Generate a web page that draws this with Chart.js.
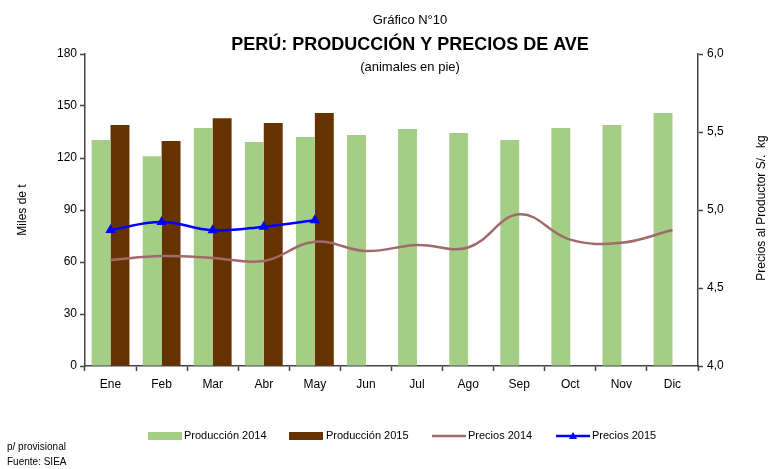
<!DOCTYPE html>
<html>
<head>
<meta charset="utf-8">
<script src="https://cdn.jsdelivr.net/npm/chart.js@4"></script>
<style>
    html, body { margin: 0; padding: 0; background: #fff; }
    #wrap { width: 769px; height: 469px; position: relative; }
</style>
</head>
<body>
<div id="wrap"><canvas id="chart" width="769" height="469"></canvas></div>
<script>
// Data
const MONTHS = ['Ene', 'Feb', 'Mar', 'Abr', 'May', 'Jun', 'Jul', 'Ago', 'Sep', 'Oct', 'Nov', 'Dic'];
const PROD_2014 = [130.4, 121, 137.3, 129.2, 132.1, 133.3, 136.7, 134.4, 130.4, 137.3, 139, 146];
const PROD_2015 = [139, 129.8, 143, 140.2, 146, null, null, null, null, null, null, null];
const PRECIO_2014 = [4.68, 4.705, 4.693, 4.673, 4.797, 4.737, 4.776, 4.76, 4.972, 4.81, 4.79, 4.872];
const PRECIO_2015 = [4.872, 4.923, 4.87, 4.893, 4.934, null, null, null, null, null, null, null];

const FONT = "'Liberation Sans', Arial, sans-serif";
const GREEN = '#A4CD86';
const BROWN = '#663300';
const ROSE = '#A06A6A';
const BLUE = '#0000FF';

// Titles, axis titles, legend and notes
const decorPlugin = {
    id: 'decor',
    afterDraw(chart) {
        const c = chart.ctx;
        c.save();
        c.fillStyle = '#000';
        c.textAlign = 'center';
        c.textBaseline = 'middle';
        c.font = '13px ' + FONT;
        c.fillText('Gráfico N°10', 410, 20);
        c.font = 'bold 18px ' + FONT;
        c.fillText('PERÚ: PRODUCCIÓN Y PRECIOS DE AVE', 410, 45);
        c.font = '13px ' + FONT;
        c.fillText('(animales en pie)', 410, 67);

        c.font = '12px ' + FONT;
        c.save();
        c.translate(23, 210);
        c.rotate(-Math.PI / 2);
        c.fillText('Miles de t', 0, 0);
        c.restore();
        c.save();
        c.translate(762, 208);
        c.rotate(-Math.PI / 2);
        c.fillText('Precios al Productor S/.  kg', 0, 0);
        c.restore();

        // legend
        const ly = 436;
        c.font = '11px ' + FONT;
        c.textAlign = 'left';
        c.fillStyle = GREEN;
        c.fillRect(148, ly - 4, 34, 8);
        c.fillStyle = BROWN;
        c.fillRect(289, ly - 4, 34, 8);
        c.strokeStyle = ROSE;
        c.lineWidth = 2.5;
        c.beginPath(); c.moveTo(432, ly); c.lineTo(466, ly); c.stroke();
        c.strokeStyle = BLUE;
        c.beginPath(); c.moveTo(556, ly); c.lineTo(590, ly); c.stroke();
        c.fillStyle = BLUE;
        c.beginPath(); c.moveTo(573, ly - 4); c.lineTo(577, ly + 3); c.lineTo(569, ly + 3); c.closePath(); c.fill();
        c.fillStyle = '#000';
        c.fillText('Producción 2014', 184, ly);
        c.fillText('Producción 2015', 326, ly);
        c.fillText('Precios 2014', 468, ly);
        c.fillText('Precios 2015', 592, ly);

        c.font = '10px ' + FONT;
        c.fillText('p/ provisional', 7, 447);
        c.fillText('Fuente: SIEA', 7, 462);
        c.restore();
    }
};

const TICK_FONT = { family: FONT, size: 12 };

new Chart(document.getElementById('chart'), {
    type: 'bar',
    data: {
        labels: MONTHS,
        datasets: [
            { type: 'line', label: 'Precios 2015', data: PRECIO_2015, yAxisID: 'y1', borderColor: BLUE, backgroundColor: BLUE,
              borderWidth: 2.5, tension: 0.4, pointStyle: 'triangle', pointRadius: 3.5, pointBackgroundColor: BLUE, order: 0 },
            { type: 'line', label: 'Precios 2014', data: PRECIO_2014, yAxisID: 'y1', borderColor: ROSE,
              borderWidth: 2.5, tension: 0.4, pointRadius: 0, order: 1 },
            { label: 'Producción 2014', data: PROD_2014, backgroundColor: GREEN, yAxisID: 'y', order: 2,
              categoryPercentage: 0.74, barPercentage: 1 },
            { label: 'Producción 2015', data: PROD_2015, backgroundColor: BROWN, yAxisID: 'y', order: 3,
              categoryPercentage: 0.74, barPercentage: 1 }
        ]
    },
    options: {
        responsive: false,
        animation: false,
        layout: { padding: { top: 54, left: 0, right: 0, bottom: 0 } },
        plugins: { legend: { display: false }, tooltip: { enabled: false } },
        scales: {
            x: {
                offset: true,
                grid: { offset: true, drawOnChartArea: false, color: '#444', tickLength: 5, tickWidth: 1.5 },
                border: { color: '#444', width: 1.5 },
                ticks: { color: '#000', font: TICK_FONT, padding: 6 },
                afterFit(s) { s.height = 103; }
            },
            y: {
                position: 'left',
                min: 0, max: 180,
                ticks: { stepSize: 30, color: '#000', font: TICK_FONT, padding: 3 },
                grid: { drawOnChartArea: false, color: '#444', tickLength: 5, tickWidth: 1.5 },
                border: { color: '#444', width: 1.5 },
                afterFit(s) { s.width = 85; }
            },
            y1: {
                position: 'right',
                min: 4, max: 6,
                ticks: { stepSize: 0.5, color: '#000', font: TICK_FONT, padding: 4,
                         callback: v => v.toFixed(1).replace('.', ',') },
                grid: { drawOnChartArea: false, color: '#444', tickLength: 5, tickWidth: 1.5 },
                border: { color: '#444', width: 1.5 },
                afterFit(s) { s.width = 71; }
            }
        }
    },
    plugins: [decorPlugin]
});
</script>
</body>
</html>
